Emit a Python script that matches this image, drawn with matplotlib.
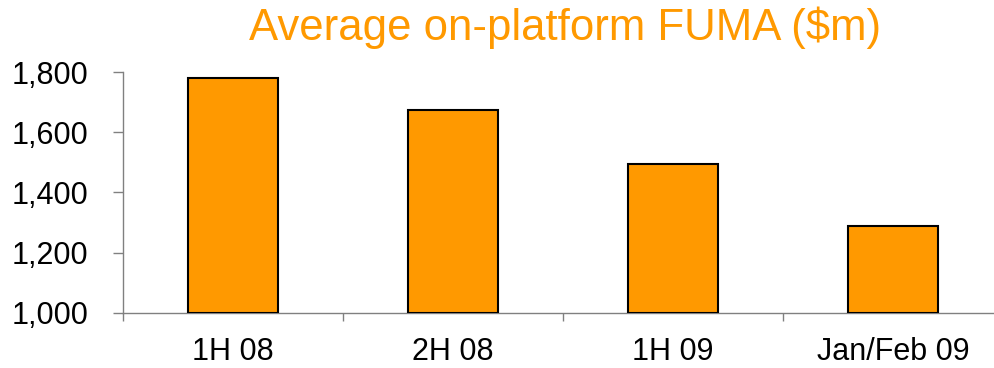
import matplotlib
matplotlib.use("Agg")
import matplotlib.pyplot as plt
import numpy as np

categories = ["1H 08", "2H 08", "1H 09", "Jan/Feb 09"]
values = [1780, 1674, 1495, 1289]
yticks = [1000, 1200, 1400, 1600, 1800]
ytick_labels = ["1,000", "1,200", "1,400", "1,600", "1,800"]
title = "Average on-platform FUMA ($m)"

plt.rcParams['font.family'] = ['Liberation Sans', 'DejaVu Sans']

fig = plt.figure(figsize=(9.94, 3.68), dpi=100)
ax = fig.add_axes([123/994, 1 - 313/368, 880/994, (313 - 72)/368])

x = np.arange(len(categories))
ax.bar(x, [v - 1000 for v in values], bottom=1000, width=0.41,
       color="#FF9900", edgecolor="black", linewidth=1.5, zorder=3)

ax.set_xlim(-0.5, len(categories) - 0.5)
ax.set_ylim(1000, 1800)
ax.set_yticks(yticks)
ax.set_yticklabels(ytick_labels, fontsize=22)
ax.set_xticks(x)
ax.set_xticklabels(categories, fontsize=22)
ax.tick_params(axis='x', length=0, pad=17)
ax.set_xticks(np.arange(-0.5, len(categories) + 0.5, 1), minor=True)
ax.tick_params(axis='x', which='minor', length=6, width=1, color="#808080", direction='out')
ax.tick_params(axis='y', length=7, width=1, color="#808080", direction='out', pad=18)

for s in ["top", "right"]:
    ax.spines[s].set_visible(False)
for s in ["left", "bottom"]:
    ax.spines[s].set_color("#808080")
    ax.spines[s].set_linewidth(1)

fig.text(565/994, 1 - 28/368, title, color="#FF9900", fontsize=31.5,
         ha="center", va="center")

fig.savefig("out.png", dpi=100)
